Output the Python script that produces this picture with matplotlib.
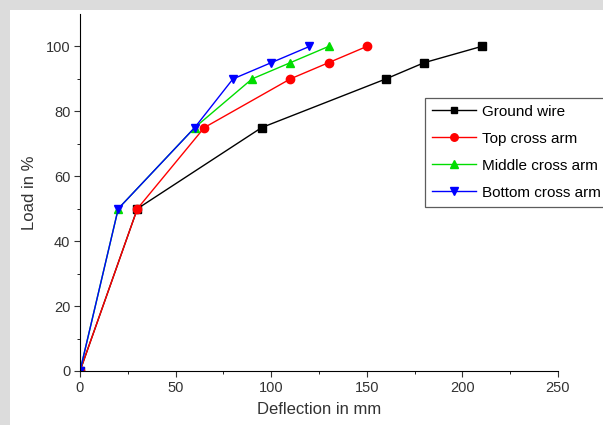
import matplotlib.pyplot as plt
from matplotlib.patches import Rectangle

plt.rcParams['font.family'] = ['Liberation Sans', 'DejaVu Sans']

# deflection (mm) vs load (%)
ground_x = [0, 30, 95, 160, 180, 210]
ground_y = [0, 50, 75, 90, 95, 100]
top_x = [0, 30, 65, 110, 130, 150]
top_y = [0, 50, 75, 90, 95, 100]
middle_x = [0, 20, 60, 90, 110, 130]
middle_y = [0, 50, 75, 90, 95, 100]
bottom_x = [0, 20, 60, 80, 100, 120]
bottom_y = [0, 50, 75, 90, 95, 100]

fig = plt.figure(figsize=(6.03, 4.25), dpi=100, facecolor='#dcdcdc')
fig.patches.append(Rectangle((10 / 603, 0), 1, 415 / 425, transform=fig.transFigure,
                             facecolor='white', edgecolor='none', zorder=-5))
ax = fig.add_axes([80 / 603, 54 / 425, 478 / 603, 357 / 425])
ax.set_facecolor('none')

ax.plot(ground_x, ground_y, '-s', color='black', ms=5.5, lw=1, label='Ground wire')
ax.plot(top_x, top_y, '-o', color='#ff0000', ms=6, lw=1, label='Top cross arm')
ax.plot(middle_x, middle_y, '-^', color='#00dd00', ms=6, lw=1, label='Middle cross arm')
ax.plot(bottom_x, bottom_y, '-v', color='#0000ff', ms=6, lw=1, label='Bottom cross arm')

ax.set_xlim(0, 250)
ax.set_ylim(0, 110)
ax.set_xticks([0, 50, 100, 150, 200, 250])
ax.set_xticks([25, 75, 125, 175, 225], minor=True)
ax.set_yticks([0, 20, 40, 60, 80, 100])
ax.set_yticks([10, 30, 50, 70, 90], minor=True)
ax.spines['top'].set_visible(False)
ax.spines['right'].set_visible(False)
ax.tick_params(labelsize=10.5, direction='out', length=4.5, pad=2.5,
               color='#333333', labelcolor='#333333')
ax.tick_params(which='minor', length=2.5)
ax.set_xlabel('Deflection in mm', fontsize=12, color='#333333', labelpad=5)
ax.set_ylabel('Load in %', fontsize=12, color='#333333', labelpad=6)

leg = ax.legend(loc='upper left', bbox_to_anchor=(0.722, 0.765),
                fontsize=11, frameon=True, fancybox=False, edgecolor='#333333',
                handlelength=2.9, handletextpad=0.4, borderpad=0.45,
                borderaxespad=0, labelspacing=0.85, markerscale=0.9)
leg.get_frame().set_linewidth(0.9)
leg.set_clip_on(False)

fig.savefig('out.png', dpi=100, facecolor=fig.get_facecolor())
